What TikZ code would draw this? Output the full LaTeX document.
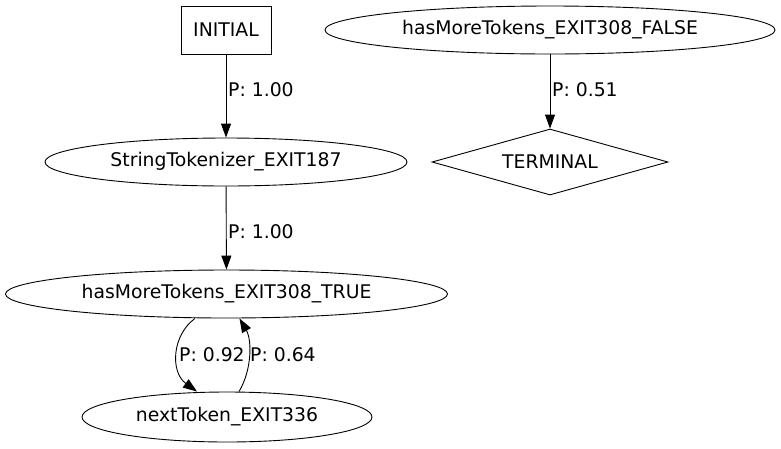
\documentclass[tikz,border=0pt]{standalone}
\usepackage{fontspec}
\setmainfont{DejaVu Sans}
\usetikzlibrary{shapes.geometric,arrows.meta}
\begin{document}
\begin{tikzpicture}[x=1pt,y=-1pt,
  every node/.style={font=\fontsize{18.8}{22}\selectfont},
  ell/.style={draw,ellipse,inner sep=0pt,line width=0.9pt},
  boxnode/.style={draw,rectangle,inner sep=0pt,line width=0.9pt,minimum width=90pt,minimum height=48pt},
  dia/.style={draw,diamond,inner sep=0pt,line width=0.9pt,minimum width=236pt,minimum height=66pt,aspect=3.6},
  conn/.style={line width=0.9pt,-{Triangle[length=14pt,width=10pt]}},
  lbl/.style={anchor=west,inner sep=0pt}]
\useasboundingbox (0,0) rectangle (781,448);
\node[boxnode] (init) at (226,30) {INITIAL};
\node[ell,minimum width=362pt,minimum height=48pt] (st) at (226,162) {StringTokenizer\_EXIT187};
\node[ell,minimum width=442pt,minimum height=48pt] (true) at (226.5,294) {hasMoreTokens\_EXIT308\_TRUE};
\node[ell,minimum width=290pt,minimum height=50pt] (next) at (227,417) {nextToken\_EXIT336};
\node[ell,minimum width=450pt,minimum height=48pt] (false) at (550,30) {hasMoreTokens\_EXIT308\_FALSE};
\node[dia] (term) at (550,162) {TERMINAL};
\draw[conn] (init) -- (st);
\draw[conn] (st) -- (true);
\draw[conn] (false) -- (term);
\draw[conn] ([xshift=-31.5pt]true.south) .. controls (172,335) and (170,372) .. ([xshift=-30pt]next.north);
\draw[conn] ([xshift=12pt]next.north) .. controls (252,370) and (252,340) .. ([xshift=13pt]true.south);
\node[lbl] (l1) at (228,90) {P: 1.00};
\node[lbl] (l2) at (228,232) {P: 1.00};
\node[lbl] (l3) at (552,90) {P: 0.51};
\node[lbl] (l4) at (179,355) {P: 0.92};
\node[lbl] (l5) at (250,355) {P: 0.64};
\end{tikzpicture}
\end{document}
